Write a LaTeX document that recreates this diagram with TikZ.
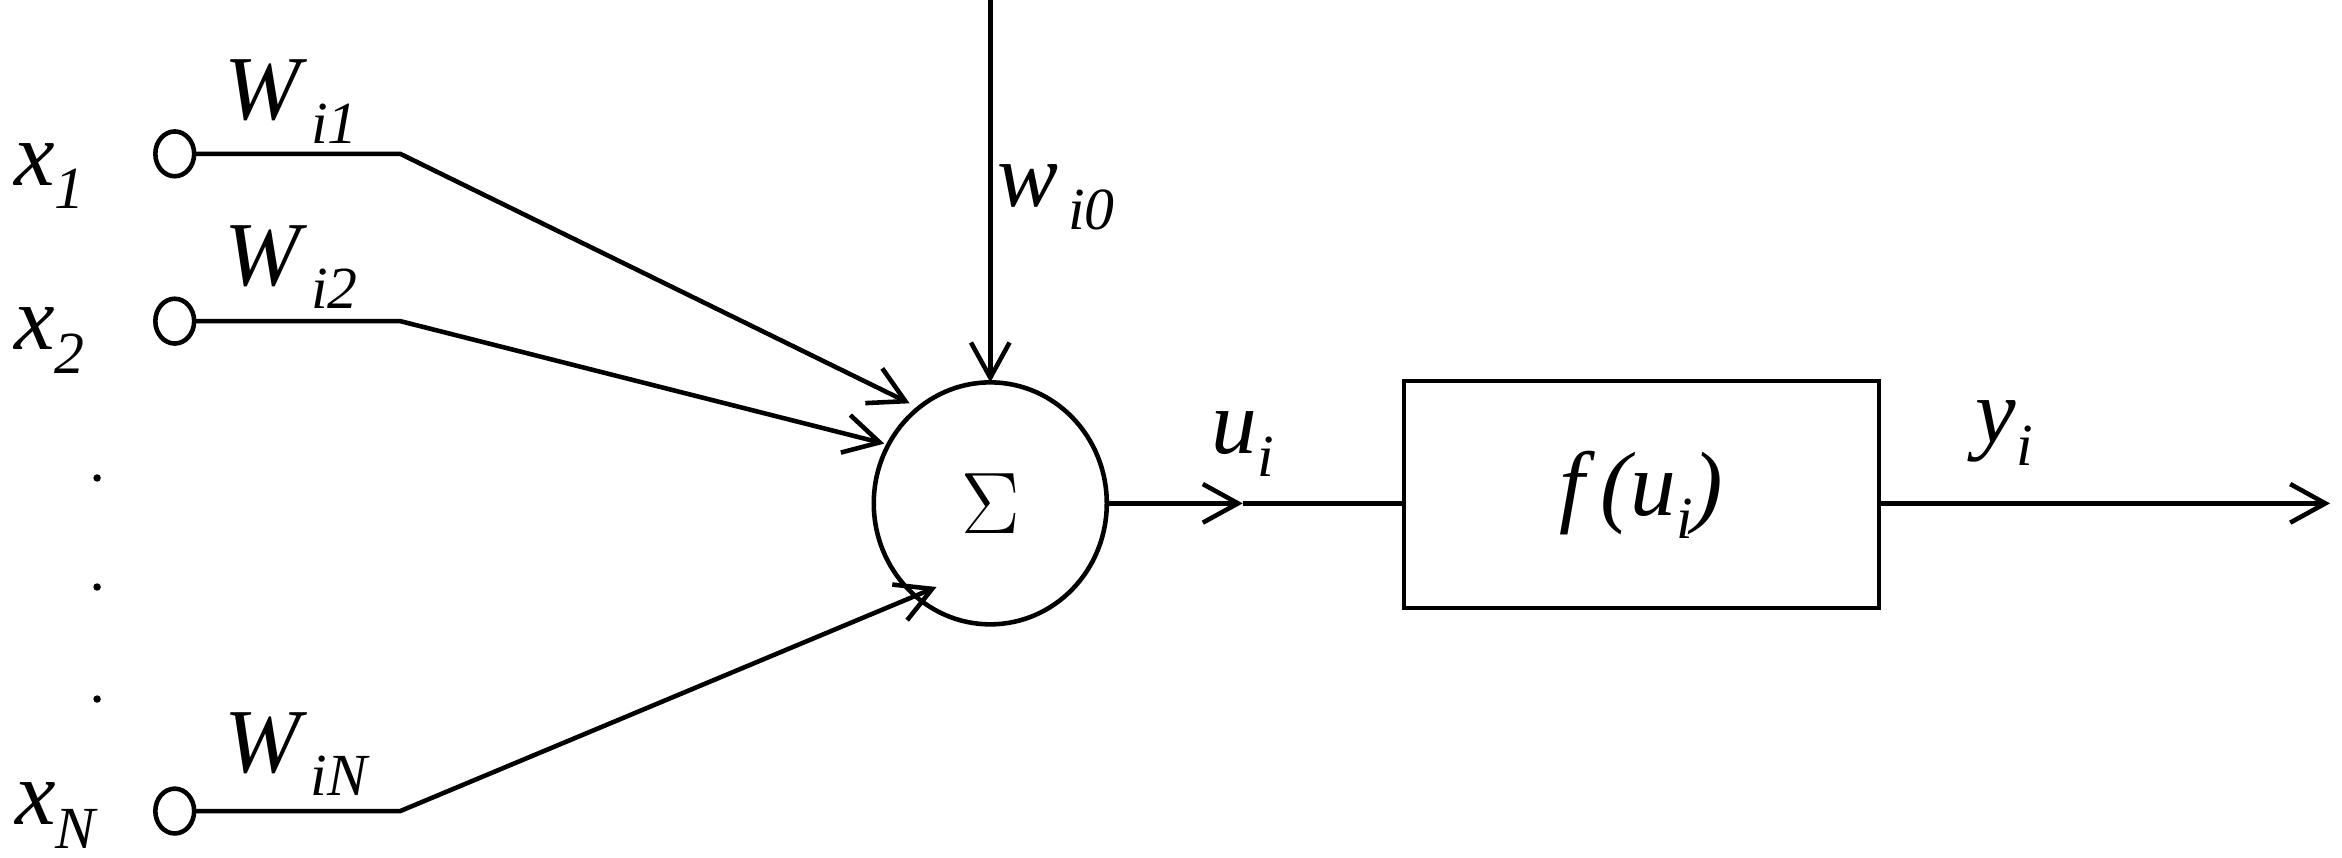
\documentclass[tikz,border=0pt]{standalone}
\usepackage{fontspec}
\setmainfont{Liberation Serif}
\usetikzlibrary{arrows.meta}
\newcommand{\mysub}[1]{\raisebox{-0.55ex}{\fontsize{17}{17}\selectfont #1}}
\begin{document}
\begin{tikzpicture}[x=0.014936cm,y=-0.014936cm,
  line width=1.3pt,
  tip/.style={-{Straight Barb[length=10pt,width=11pt,line width=1.3pt]}},
  lbl/.style={font=\fontsize{26}{28}\selectfont\itshape, inner sep=0pt}]
\useasboundingbox (0,0) rectangle (1568,574);
\foreach \n/\y in {1/103,2/215,N/543}{
  \draw (117,\y) ellipse [x radius=13, y radius=15];
  \coordinate (c\n) at (130,\y);
  \coordinate (k\n) at (268,\y);
}
\draw (663,337) ellipse [x radius=78, y radius=81];
\node[inner sep=0pt] (sum) at (663,337) {\fontsize{36}{36}\selectfont$\Sigma$};
\coordinate (e1) at (609,270);
\coordinate (e2) at (592,297);
\coordinate (eN) at (627,393);
\coordinate (top) at (663,0);
\coordinate (st) at (663,256);
\coordinate (se) at (741,337);
\coordinate (mid) at (832,337);
\draw[tip] (c1) -- (k1) -- (e1);
\draw[tip] (c2) -- (k2) -- (e2);
\draw[tip] (cN) -- (kN) -- (eN);
\draw[tip] (top) -- (st);
\coordinate (bnw) at (940,255);
\coordinate (bse) at (1258,407);
\draw (bnw) rectangle (bse);
\coordinate (bw) at (940,337);
\coordinate (be) at (1258,337);
\coordinate (out) at (1560,337);
\draw[tip] (se) -- (mid);
\draw (mid) -- (bw);
\draw[tip] (be) -- (out);
\node[lbl] (fu) at (1099,331) {f\,(u\mysub{i})};
\node[lbl] (x1) at (33,118) {x\mysub{1}};
\node[lbl] (x2) at (33,228) {x\mysub{2}};
\node[lbl] (xN) at (37,546) {x\mysub{N}};
\node[lbl] (w1) at (195,68) {W\mysub{\,i1}};
\node[lbl] (w2) at (195,179) {W\mysub{\,i2}};
\node[lbl] (wN) at (198,505) {W\mysub{\,iN}};
\node[lbl] (w0) at (707,132) {w\mysub{\,i0}};
\node[lbl] (ui) at (832,297) {u\mysub{i}};
\node[lbl] (yi) at (1342,290) {y\mysub{i}};
\foreach \y [count=\i] in {320,393,468} \fill (65,\y) circle (2.5);
\end{tikzpicture}
\end{document}
